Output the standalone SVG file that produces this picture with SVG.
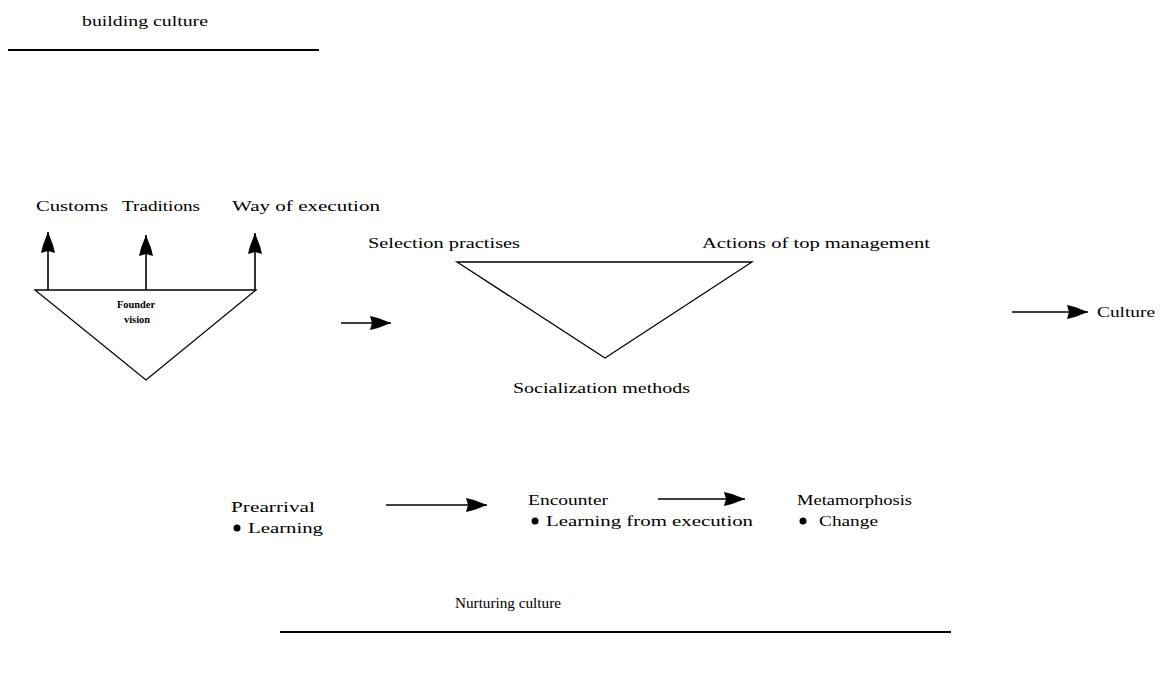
<svg xmlns="http://www.w3.org/2000/svg" width="1161" height="675" viewBox="0 0 1161 675">
<style>
text{font-family:"Liberation Serif","Times New Roman",serif;font-size:15px;fill:#000}
.s{font-size:10px;font-weight:bold}
.ln{stroke:#000;stroke-width:1.6;fill:none}
.rule{stroke:#000;stroke-width:2;fill:none}
.tri{stroke:#000;stroke-width:1.3;fill:none}
</style>
<defs>
<marker id="ah" viewBox="0 0 22 16" refX="22" refY="8" markerWidth="22" markerHeight="16" markerUnits="userSpaceOnUse" orient="auto">
<path d="M1,1 L3,8 L1,15 L9,13 L22,8 L9,3 Z" fill="#000"/>
</marker>
</defs>
<rect width="1161" height="675" fill="#fff"/>
<g id="title-building">
<text x="82" y="26" textLength="126" lengthAdjust="spacingAndGlyphs">building culture</text>
<line class="rule" x1="8" y1="50" x2="319" y2="50"/>
</g>
<g id="labels-top">
<text x="36" y="211" textLength="72" lengthAdjust="spacingAndGlyphs">Customs</text>
<text x="122" y="211" textLength="78" lengthAdjust="spacingAndGlyphs">Traditions</text>
<text x="232" y="211" textLength="148" lengthAdjust="spacingAndGlyphs">Way of execution</text>
</g>
<g id="founder-vision">
<polygon class="tri" points="35,290 256,290 146,380"/>
<text class="s" x="117" y="308" textLength="38" lengthAdjust="spacingAndGlyphs">Founder</text>
<text class="s" x="124" y="323" textLength="26" lengthAdjust="spacingAndGlyphs">vision</text>
</g>
<g id="culture-triangle">
<text x="368" y="248" textLength="152" lengthAdjust="spacingAndGlyphs">Selection practises</text>
<text x="702" y="248" textLength="228" lengthAdjust="spacingAndGlyphs">Actions of top management</text>
<polygon class="tri" points="457,262 752,262 605,358"/>
<text x="513" y="393" textLength="177" lengthAdjust="spacingAndGlyphs">Socialization methods</text>
</g>
<g id="culture">
<text x="1097" y="317" textLength="58" lengthAdjust="spacingAndGlyphs">Culture</text>
</g>
<g id="prearrival">
<text x="231" y="512" textLength="84" lengthAdjust="spacingAndGlyphs">Prearrival</text>
<circle cx="237" cy="528" r="3.5"/>
<text x="248" y="533" textLength="75" lengthAdjust="spacingAndGlyphs">Learning</text>
</g>
<g id="encounter">
<text x="528" y="505" textLength="80" lengthAdjust="spacingAndGlyphs">Encounter</text>
<circle cx="535" cy="521" r="3.5"/>
<text x="546" y="526" textLength="207" lengthAdjust="spacingAndGlyphs">Learning from execution</text>
</g>
<g id="metamorphosis">
<text x="797" y="505" textLength="115" lengthAdjust="spacingAndGlyphs">Metamorphosis</text>
<circle cx="803" cy="521" r="3.5"/>
<text x="819" y="526" textLength="59" lengthAdjust="spacingAndGlyphs">Change</text>
</g>
<g id="title-nurturing">
<text x="455" y="608" textLength="106" lengthAdjust="spacingAndGlyphs">Nurturing culture</text>
<line class="rule" x1="280" y1="632" x2="951" y2="632"/>
</g>
<g id="connectors">
<line class="ln" x1="48" y1="290" x2="48" y2="232" marker-end="url(#ah)"/>
<line class="ln" x1="146" y1="290" x2="146" y2="235" marker-end="url(#ah)"/>
<line class="ln" x1="255" y1="290" x2="255" y2="233" marker-end="url(#ah)"/>
<line class="ln" x1="341" y1="323" x2="391" y2="323" marker-end="url(#ah)"/>
<line class="ln" x1="1012" y1="312" x2="1088" y2="312" marker-end="url(#ah)"/>
<line class="ln" x1="386" y1="505" x2="487" y2="505" marker-end="url(#ah)"/>
<line class="ln" x1="658" y1="499" x2="745" y2="499" marker-end="url(#ah)"/>
</g>
</svg>
